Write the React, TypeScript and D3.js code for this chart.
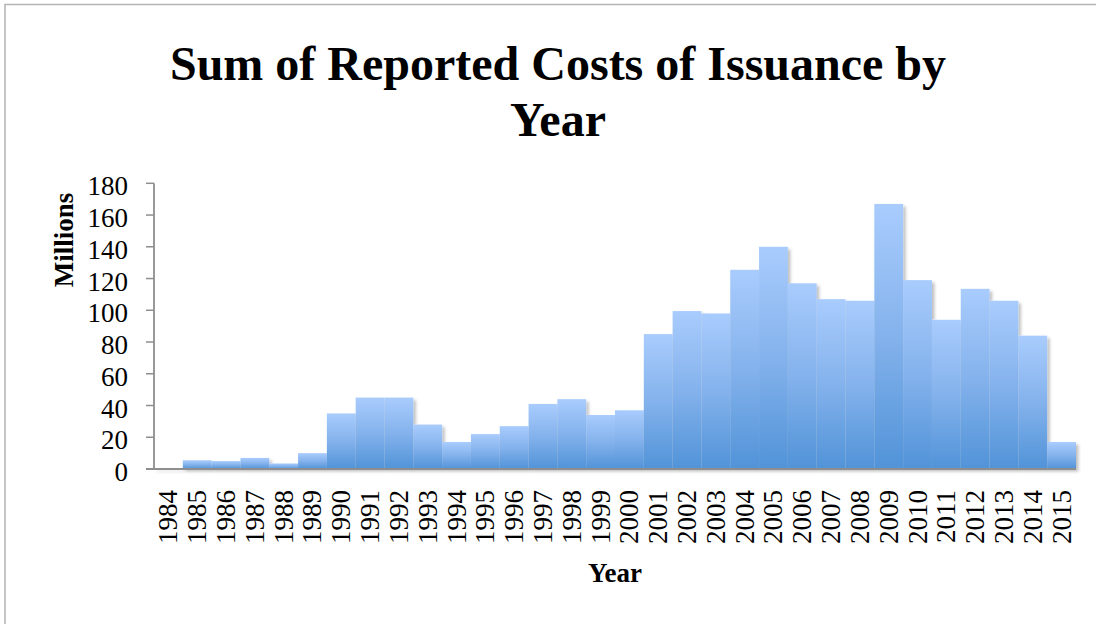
import React from "react";
import * as d3 from "d3";

// Annual totals of reported costs of issuance, in millions of dollars
const years: string[] = [
  "1984", "1985", "1986", "1987", "1988", "1989", "1990", "1991",
  "1992", "1993", "1994", "1995", "1996", "1997", "1998", "1999",
  "2000", "2001", "2002", "2003", "2004", "2005", "2006", "2007",
  "2008", "2009", "2010", "2011", "2012", "2013", "2014", "2015",
];
const costs: number[] = [
  0.5, 5.5, 5, 7, 3.5, 10, 35, 45,
  45, 28, 17, 22, 27, 41, 44, 34,
  37, 85, 99.5, 98, 125.5, 140, 117, 107,
  106, 167, 119, 94, 113.5, 106, 84, 17,
];
const yTicks: number[] = [0, 20, 40, 60, 80, 100, 120, 140, 160, 180];

const titleLines: string[] = ["Sum of Reported Costs of Issuance by", "Year"];
const yTitle = "Millions";
const xTitle = "Year";

const W = 1096;
const H = 624;
const plot = { left: 154, right: 1076, top: 183.3, bottom: 469 };

export default function App() {
  const x = d3.scaleBand<string>().domain(years).range([plot.left, plot.right]).padding(0);
  const y = d3.scaleLinear().domain([0, 180]).range([plot.bottom, plot.top]);
  const axisColor = "#8e8e8e";
  const serif = "'Liberation Serif', 'Times New Roman', serif";

  return (
    <svg
      width={W}
      height={H}
      style={{ position: "absolute", left: 0, top: 0, background: "#fff" }}
    >
      <defs>
        <linearGradient id="barFill" x1="0" y1="0" x2="0" y2="1">
          <stop offset="0%" stopColor="#a9ccfd" />
          <stop offset="50%" stopColor="#84b2ec" />
          <stop offset="100%" stopColor="#5193d8" />
        </linearGradient>
        <filter id="barShadow" x="-5%" y="-5%" width="115%" height="115%">
          <feDropShadow dx="2.5" dy="2.5" stdDeviation="1.8" floodColor="#000" floodOpacity="0.25" />
        </filter>
      </defs>

      {/* chart area frame */}
      <rect x={5} y={4.5} width={W + 20} height={H + 20} fill="#fff" stroke="#b4b4b4" strokeWidth={1.5} />

      {/* title */}
      <text
        x={558}
        textAnchor="middle"
        fontFamily={serif}
        fontWeight="bold"
        fontSize={48}
        fill="#000"
      >
        <tspan x={558} y={80}>{titleLines[0]}</tspan>
        <tspan x={558} y={136}>{titleLines[1]}</tspan>
      </text>

      {/* bars */}
      <g filter="url(#barShadow)">
        {years.map((yr, i) => (
          <rect
            key={yr}
            x={x(yr)!}
            y={y(costs[i])}
            width={x.bandwidth()}
            height={y(0) - y(costs[i])}
            fill="url(#barFill)"
          />
        ))}
      </g>

      {/* y axis */}
      <line x1={plot.left} x2={plot.left} y1={plot.top} y2={plot.bottom} stroke={axisColor} strokeWidth={1.8} />
      {yTicks.map((t) => (
        <g key={t}>
          <line x1={plot.left - 8} x2={plot.left} y1={y(t)} y2={y(t)} stroke={axisColor} strokeWidth={1.5} />
          <text
            x={128}
            y={y(t) + 12}
            textAnchor="end"
            fontFamily={serif}
            fontSize={27}
            fill="#000"
          >
            {t}
          </text>
        </g>
      ))}

      {/* x axis */}
      <line x1={plot.left - 8} x2={plot.right} y1={plot.bottom} y2={plot.bottom} stroke={axisColor} strokeWidth={1.8} />
      {years.map((yr) => {
        const cx = x(yr)! + x.bandwidth() / 2;
        return (
          <text
            key={yr}
            transform={`translate(${cx + 9},490) rotate(-90)`}
            textAnchor="end"
            fontFamily={serif}
            fontSize={27}
            fill="#000"
          >
            {yr}
          </text>
        );
      })}

      {/* axis titles */}
      <text
        transform="translate(73,240) rotate(-90)"
        textAnchor="middle"
        fontFamily={serif}
        fontWeight="bold"
        fontSize={27}
        fill="#000"
      >
        {yTitle}
      </text>
      <text
        x={(plot.left + plot.right) / 2}
        y={582}
        textAnchor="middle"
        fontFamily={serif}
        fontWeight="bold"
        fontSize={27}
        fill="#000"
      >
        {xTitle}
      </text>
    </svg>
  );
}
